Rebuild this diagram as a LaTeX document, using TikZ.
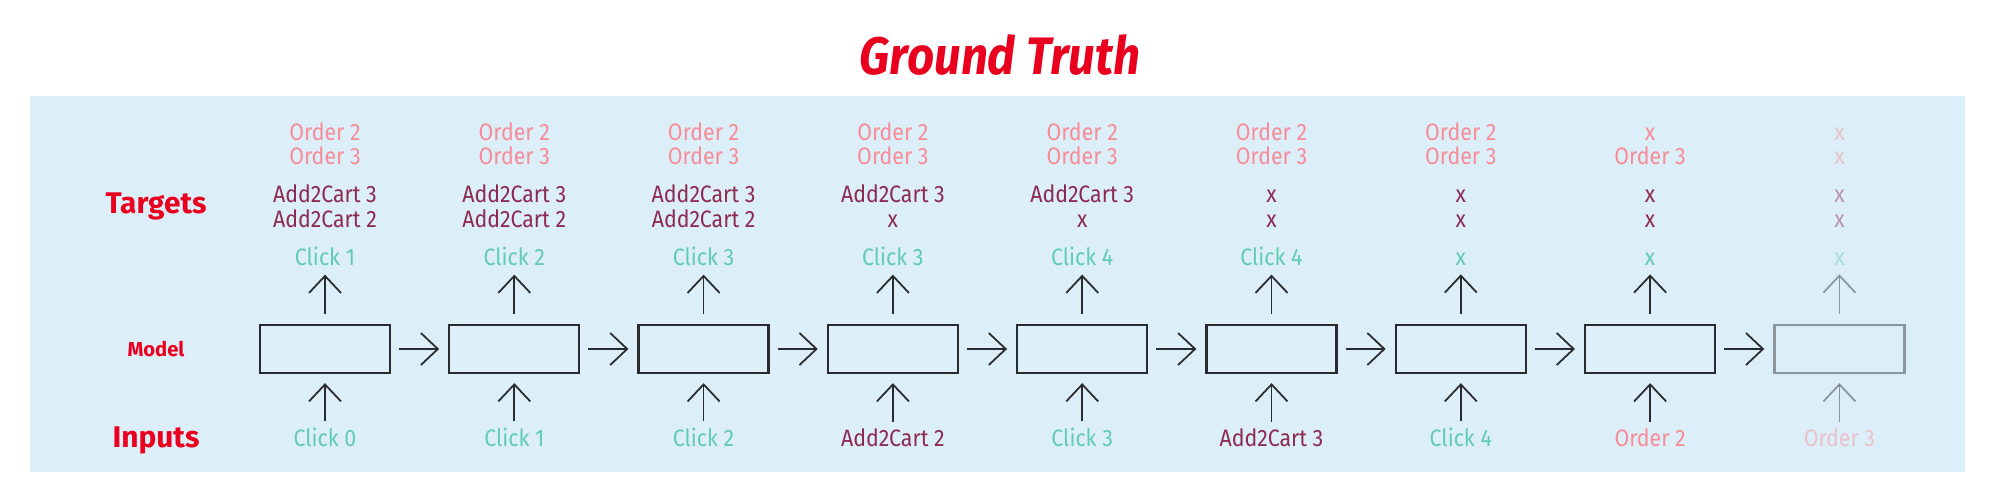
\documentclass[tikz,border=0pt]{standalone}
\usepackage{fontspec}
\setmainfont{Fira Sans}
\newfontfamily\labelfont[FakeStretch=0.9]{Fira Sans}
\newfontfamily\titlefont[FakeStretch=0.9]{Fira Sans}
\usetikzlibrary{arrows.meta,positioning}
\definecolor{truthred}{RGB}{232,0,30}
\definecolor{orderpink}{RGB}{247,140,152}
\definecolor{cartmaroon}{RGB}{140,42,82}
\definecolor{clickteal}{RGB}{96,204,178}
\definecolor{panelblue}{RGB}{220,238,247}
\definecolor{boxgrey}{RGB}{40,44,46}

\begin{document}
\begin{tikzpicture}[
        cell/.style={draw=boxgrey, line width=1.3pt, minimum width=2.6cm, minimum height=0.96cm, inner sep=0pt},
        lbl/.style={anchor=base, inner sep=0pt, font=\labelfont\fontsize{13.5}{14}\selectfont},
        side/.style={anchor=base, inner sep=0pt, text=truthred, font=\bfseries\fontsize{17}{18}\selectfont},
        arrow/.style={-{Straight Barb[length=0.34cm, width=0.64cm]}, line width=1pt, draw=boxgrey}
    ]
        \useasboundingbox (0,0) rectangle (40.02,-10.02);
        \fill[panelblue] (0.6,-1.92) rectangle (39.3,-9.44);

        \node[anchor=base, text=truthred, font=\titlefont\bfseries\itshape\fontsize{30}{32}\selectfont] (title) at (20,-1.5) {Ground Truth};
        \node[side] (targets) at (3.12,-4.26) {Targets};
        \node[side, font=\bfseries\fontsize{11.5}{12}\selectfont] (model) at (3.12,-7.12) {Model};
        \node[side] (inputs) at (3.12,-8.94) {Inputs};

        \foreach \i/\oa/\ob/\ca/\cb/\cl/\inp/\ic/\op in {
            1/Order 2/Order 3/Add2Cart 3/Add2Cart 2/Click 1/Click 0/clickteal/1,
            2/Order 2/Order 3/Add2Cart 3/Add2Cart 2/Click 2/Click 1/clickteal/1,
            3/Order 2/Order 3/Add2Cart 3/Add2Cart 2/Click 3/Click 2/clickteal/1,
            4/Order 2/Order 3/Add2Cart 3/x/Click 3/Add2Cart 2/cartmaroon/1,
            5/Order 2/Order 3/Add2Cart 3/x/Click 4/Click 3/clickteal/1,
            6/Order 2/Order 3/x/x/Click 4/Add2Cart 3/cartmaroon/1,
            7/Order 2/Order 3/x/x/x/Click 4/clickteal/1,
            8/x/Order 3/x/x/x/Order 2/orderpink/1,
            9/x/x/x/x/x/Order 3/orderpink/0.45}
        {
            \pgfmathsetmacro\cx{6.5+3.786*(\i-1)}
            \begin{scope}[opacity=\op]
                \node[cell] (m\i) at (\cx,-6.98) {};
                \node[lbl, text=orderpink] (oa\i) at (\cx,-2.80) {\oa};
                \node[lbl, text=orderpink] (ob\i) at (\cx,-3.28) {\ob};
                \node[lbl, text=cartmaroon] (ca\i) at (\cx,-4.04) {\ca};
                \node[lbl, text=cartmaroon] (cb\i) at (\cx,-4.54) {\cb};
                \node[lbl, text=clickteal] (cl\i) at (\cx,-5.30) {\cl};
                \node[lbl, text=\ic] (in\i) at (\cx,-8.92) {\inp};
                \draw[arrow, shorten <=0.12cm, shorten >=0.18cm] (in\i) -- (m\i);
                \draw[arrow, shorten <=0.2cm, shorten >=0.18cm] (m\i) -- (cl\i);
            \end{scope}
        }

        \foreach \i [count=\j from 2] in {1,...,8}
            \draw[arrow, shorten <=0.16cm, shorten >=0.18cm] (m\i) -- (m\j);

    \end{tikzpicture}
\end{document}
